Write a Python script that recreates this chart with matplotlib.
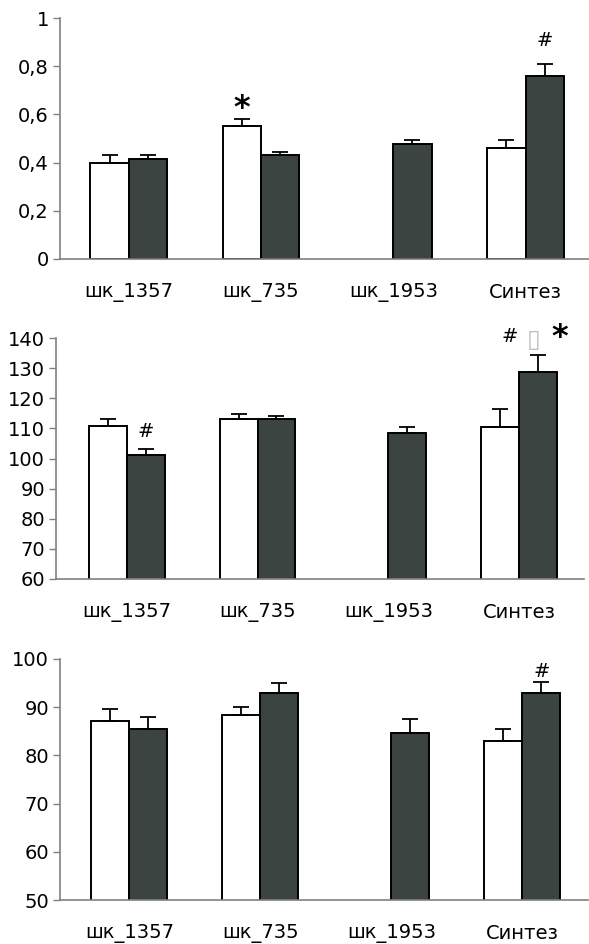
import numpy as np
import matplotlib
matplotlib.use('Agg')
import matplotlib.pyplot as plt

plt.rcParams['font.family'] = ['DejaVu Sans']

categories = ['шк_1357', 'шк_735', 'шк_1953', 'Синтез']

# panel 1
p1_white = [0.40, 0.553, np.nan, 0.461]
p1_white_err = [0.033, 0.027, np.nan, 0.034]
p1_dark = [0.413, 0.43, 0.478, 0.758]
p1_dark_err = [0.017, 0.016, 0.017, 0.053]
p1_ticks = [0, 0.2, 0.4, 0.6, 0.8, 1]
p1_ticklabels = ['0', '0,2', '0,4', '0,6', '0,8', '1']

# panel 2
p2_white = [110.8, 113.1, np.nan, 110.3]
p2_white_err = [2.3, 1.8, np.nan, 6.1]
p2_dark = [101.1, 113.1, 108.3, 128.8]
p2_dark_err = [2.0, 1.1, 2.1, 5.4]
p2_ticks = [60, 70, 80, 90, 100, 110, 120, 130, 140]

# panel 3
p3_white = [87.2, 88.4, np.nan, 83.0]
p3_white_err = [2.4, 1.7, np.nan, 2.5]
p3_dark = [85.5, 93.0, 84.7, 93.0]
p3_dark_err = [2.4, 2.05, 2.9, 2.3]
p3_ticks = [50, 60, 70, 80, 90, 100]

DARK = '#3c4442'
W = 0.29
W_PX = 589
H_PX = 944

fig = plt.figure(figsize=(5.89, 9.44), dpi=100)


def make_axes(left, right, top, bottom):
    return fig.add_axes([left / W_PX, 1 - bottom / H_PX,
                         (right - left) / W_PX, (bottom - top) / H_PX])


def draw_panel(ax, white, white_err, dark, dark_err, ticks, ticklabels, xlim):
    x = np.arange(len(categories))
    for i in range(len(categories)):
        if not np.isnan(white[i]):
            ax.bar(x[i] - W / 2, white[i], W, color='white', edgecolor='black',
                   linewidth=1.4, zorder=2)
            ax.errorbar(x[i] - W / 2, white[i], yerr=[[0], [white_err[i]]],
                        fmt='none', ecolor='black', elinewidth=1.3,
                        capsize=5.5, capthick=1.3, zorder=3)
        ax.bar(x[i] + W / 2, dark[i], W, color=DARK, edgecolor='black',
               linewidth=1.4, zorder=2)
        ax.errorbar(x[i] + W / 2, dark[i], yerr=[[0], [dark_err[i]]],
                    fmt='none', ecolor='black', elinewidth=1.3,
                    capsize=5.5, capthick=1.3, zorder=3)
    ax.set_xlim(*xlim)
    ax.set_ylim(ticks[0], ticks[-1])
    ax.set_yticks(ticks)
    ax.set_yticklabels(ticklabels)
    ax.set_xticks(x)
    ax.set_xticklabels(categories)
    ax.tick_params(axis='x', length=0, pad=17, labelsize=14)
    ax.tick_params(axis='y', length=5, width=1, color='#808080',
                   direction='out', pad=3, labelsize=14)
    for s in ['top', 'right']:
        ax.spines[s].set_visible(False)
    for s in ['left', 'bottom']:
        ax.spines[s].set_color('#808080')
        ax.spines[s].set_linewidth(1.2)
    ax.spines['bottom'].set_zorder(4)


ax1 = make_axes(60, 589, 18, 259)
draw_panel(ax1, p1_white, p1_white_err, p1_dark, p1_dark_err,
           p1_ticks, p1_ticklabels, (-0.52, 3.48))
ax1.text(1 - W / 2, 0.625, '*', ha='center', va='center', fontsize=23,
         fontweight='bold')
ax1.text(3 + W / 2, 0.905, '#', ha='center', va='center', fontsize=14)

ax2 = make_axes(56, 584, 338, 579)
draw_panel(ax2, p2_white, p2_white_err, p2_dark, p2_dark_err,
           p2_ticks, [str(t) for t in p2_ticks], (-0.54, 3.495))
ax2.text(0 + W / 2, 109, '#', ha='center', va='center', fontsize=14)
ax2.text(2.93, 140.5, '#', ha='center', va='center', fontsize=14,
         clip_on=False)
ax2.text(3.11, 139.3, '\u25af', ha='center', va='center', fontsize=18,
         color='#c0c0c0', clip_on=False)
ax2.text(3.31, 140.3, '*', ha='center', va='center', fontsize=23,
         fontweight='bold', clip_on=False)

ax3 = make_axes(60, 588, 659, 900)
draw_panel(ax3, p3_white, p3_white_err, p3_dark, p3_dark_err,
           p3_ticks, [str(t) for t in p3_ticks], (-0.53, 3.50))
ax3.text(3 + W / 2, 97.4, '#', ha='center', va='center', fontsize=14)

fig.savefig('out.png', dpi=100)
